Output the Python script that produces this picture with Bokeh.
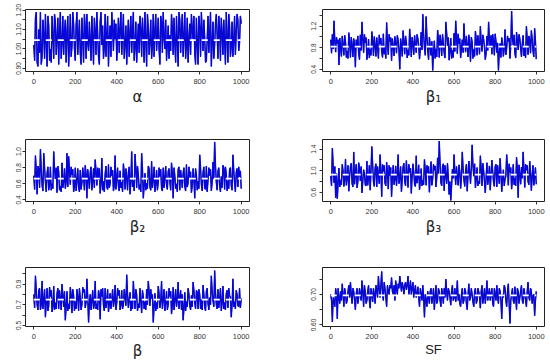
from bokeh.plotting import figure
from bokeh.layouts import gridplot
from bokeh.models import FixedTicker, PrintfTickFormatter, Range1d
from bokeh.embed import file_html
from bokeh.resources import INLINE

# iterations sampled every 8 (main) and the in-between ones (mid)
iter_main = list(range(0, 1001, 8))
iter_mid = list(range(4, 1000, 8))

alpha_main = [
    1.02, 1.16, 0.93, 1.10, 1.19, 0.96, 1.07, 1.18, 0.91, 1.12,
    1.00, 1.17, 0.95, 1.14, 1.05, 0.92, 1.19, 1.03, 0.97, 1.15,
    1.08, 0.91, 1.18, 1.01, 1.13, 0.94, 1.19, 1.06, 0.98, 1.16,
    0.93, 1.11, 1.18, 0.99, 1.04, 1.17, 0.92, 1.09, 1.19, 0.96,
    1.14, 1.02, 0.95, 1.18, 1.07, 0.91, 1.12, 1.19, 0.99, 1.05,
    0.94, 1.16, 1.10, 0.97, 1.18, 1.03, 0.92, 1.15, 1.08, 0.98,
    1.19, 1.01, 0.93, 1.13, 1.17, 0.96, 1.06, 1.19, 0.91, 1.11,
    1.04, 0.95, 1.18, 1.09, 0.99, 1.16, 0.92, 1.14, 1.19, 1.00,
    0.94, 1.12, 1.07, 1.18, 0.97, 1.03, 1.17, 0.91, 1.15, 1.10,
    0.96, 1.19, 1.02, 0.93, 1.13, 1.18, 1.05, 0.98, 1.16, 0.92,
    1.11, 1.19, 0.99, 1.06, 0.94, 1.17, 1.08, 0.91, 1.14, 1.02,
    1.18, 0.95, 1.10, 1.16, 0.97, 1.04, 1.19, 0.93, 1.12, 1.01,
    0.96, 1.17, 1.08, 1.15, 1.03, 1.13,
]
alpha_mid = [
    0.94, 1.19, 0.91, 0.98, 0.92, 1.15, 0.95, 1.04, 1.17, 0.94,
    0.93, 1.06, 1.18, 0.97, 1.16, 1.08, 0.95, 1.17, 1.09, 0.93,
    1.17, 1.02, 0.96, 1.19, 1.00, 1.12, 0.97, 1.15, 0.92, 1.05,
    1.18, 0.95, 1.03, 1.14, 0.94, 1.06, 1.16, 0.97, 1.08, 0.92,
    1.19, 1.12, 1.01, 0.96, 1.17, 1.05, 0.96, 1.10, 1.15, 1.13,
    1.04, 0.98, 1.19, 1.07, 0.95, 1.12, 1.06, 0.96, 1.17, 1.09,
    0.94, 1.14, 1.04, 0.98, 1.10, 1.16, 0.93, 1.05, 1.18, 0.97,
    1.15, 1.02, 0.96, 1.18, 1.07, 1.00, 1.17, 0.98, 1.06, 1.15,
    1.03, 0.95, 0.99, 1.11, 1.16, 0.93, 1.04, 1.19, 0.98, 1.18,
    1.06, 0.95, 1.16, 1.05, 0.97, 1.10, 1.17, 0.92, 1.03, 1.17,
    0.96, 1.09, 1.15, 0.93, 1.05, 0.98, 1.19, 1.03, 0.95, 1.13,
    1.07, 1.17, 0.94, 1.08, 1.15, 0.92, 1.06, 1.18, 0.96, 1.14,
    1.04, 0.97, 1.18, 0.99, 1.17,
]
beta1_main = [
    0.95, 1.05, 1.30, 0.72, 0.88, 0.48, 0.79, 1.02, 0.66, 0.91,
    0.74, 1.08, 0.62, 0.85, 0.97, 0.44, 0.80, 0.69, 1.04, 1.28,
    0.71, 0.89, 0.58, 0.96, 0.77, 1.10, 0.65, 0.84, 0.99, 0.60,
    0.87, 0.73, 1.06, 0.81, 1.27, 0.67, 0.92, 0.56, 0.83, 1.01,
    0.70, 0.94, 0.40, 0.86, 1.12, 0.68, 0.90, 0.76, 1.15, 0.63,
    0.88, 1.03, 0.71, 0.97, 0.59, 1.09, 1.42, 0.80, 1.38, 0.74,
    1.00, 0.66, 0.38, 0.93, 0.78, 1.13, 0.62, 0.90, 1.05, 0.70,
    1.28, 0.84, 0.57, 0.98, 0.75, 1.07, 1.30, 0.69, 0.87, 0.61,
    0.95, 1.25, 0.72, 0.83, 1.04, 0.54, 0.91, 0.77, 1.11, 0.66,
    0.89, 1.20, 0.73, 0.96, 0.58, 1.02, 1.28, 0.80, 0.68, 0.93,
    1.06, 0.71, 0.38, 0.88, 0.99, 0.64, 1.14, 0.79, 0.92, 0.60,
    1.48, 0.85, 0.70, 1.09, 0.76, 0.97, 0.63, 1.03, 0.82, 1.20,
    0.67, 0.94, 1.12, 0.74, 1.16, 0.59,
]
beta1_mid = [
    0.70, 0.78, 0.92, 1.00, 0.95, 0.98, 0.64, 0.85, 1.03, 0.62,
    0.60, 0.90, 1.00, 0.63, 0.86, 0.95, 1.02, 0.58, 0.75, 0.96,
    1.05, 0.99, 0.70, 0.61, 0.66, 0.93, 1.01, 0.64, 0.82, 1.04,
    0.98, 0.62, 0.68, 0.60, 0.90, 1.05, 0.99, 0.97, 0.65, 0.88,
    1.03, 0.75, 0.97, 0.64, 0.91, 1.02, 0.61, 0.66, 0.94, 1.00,
    0.67, 0.86, 1.05, 0.83, 0.78, 0.76, 1.05, 0.66, 1.01, 0.58,
    0.84, 0.92, 0.68, 0.60, 0.63, 0.96, 1.04, 0.65, 0.88, 0.61,
    1.08, 0.99, 0.74, 0.60, 0.62, 0.73, 1.01, 1.06, 0.97, 0.79,
    0.71, 0.93, 1.02, 0.63, 0.86, 1.00, 0.60, 0.64, 0.95, 1.03,
    0.68, 0.90, 1.04, 0.81, 0.70, 0.75, 0.97, 1.03, 1.05, 0.66,
    0.92, 0.89, 0.72, 0.62, 0.87, 0.78, 0.67, 1.02, 0.98, 0.83,
    0.98, 1.04, 0.61, 0.94, 1.05, 0.79, 0.88, 0.65, 0.61, 0.96,
    1.02, 0.70, 0.97, 0.63, 0.92,
]
beta2_main = [
    0.70, 0.95, 0.47, 0.78, 1.03, 0.58, 0.98, 0.62, 0.73, 0.52,
    0.81, 0.60, 1.00, 0.66, 0.49, 0.75, 0.57, 0.86, 0.63, 0.54,
    0.98, 0.94, 0.59, 0.71, 0.50, 0.80, 0.64, 0.55, 0.77, 0.61,
    0.69, 0.83, 0.42, 0.67, 0.74, 0.52, 0.79, 0.90, 0.58, 0.65,
    0.48, 0.92, 0.63, 0.72, 0.56, 0.84, 0.60, 0.70, 0.51, 0.95,
    0.66, 0.57, 0.76, 0.62, 0.85, 0.53, 0.68, 0.74, 0.47, 1.00,
    0.64, 0.97, 0.55, 0.71, 0.59, 0.98, 0.42, 0.73, 0.61, 0.82,
    0.56, 0.88, 0.65, 0.50, 0.77, 0.62, 0.69, 0.54, 0.80, 0.67,
    0.58, 0.75, 0.63, 0.86, 0.42, 0.70, 0.60, 0.78, 0.52, 0.66,
    0.73, 0.57, 0.84, 0.61, 0.68, 0.49, 0.79, 0.42, 0.71, 0.63,
    0.96, 0.59, 0.74, 0.55, 0.82, 0.65, 0.70, 0.51, 0.87, 1.12,
    0.62, 0.76, 0.57, 0.69, 0.83, 0.53, 0.72, 0.64, 0.78, 0.58,
    0.96, 0.61, 0.74, 0.56, 0.69, 0.54,
]
beta2_mid = [
    0.53, 0.76, 0.82, 0.55, 0.79, 0.51, 0.80, 0.50, 0.81, 0.58,
    0.52, 0.54, 0.78, 0.80, 0.82, 0.52, 0.50, 0.55, 0.79, 0.62,
    0.56, 0.77, 0.81, 0.78, 0.57, 0.51, 0.79, 0.50, 0.53, 0.80,
    0.52, 0.72, 0.78, 0.54, 0.81, 0.63, 0.55, 0.76, 0.80, 0.79,
    0.60, 0.52, 0.50, 0.82, 0.53, 0.55, 0.81, 0.77, 0.58, 0.53,
    0.80, 0.51, 0.55, 0.50, 0.74, 0.79, 0.52, 0.81, 0.63, 0.56,
    0.51, 0.80, 0.82, 0.53, 0.50, 0.78, 0.57, 0.52, 0.54, 0.79,
    0.52, 0.55, 0.81, 0.60, 0.52, 0.80, 0.78, 0.51, 0.55, 0.82,
    0.53, 0.79, 0.52, 0.74, 0.80, 0.54, 0.50, 0.81, 0.77, 0.55,
    0.80, 0.51, 0.56, 0.81, 0.75, 0.58, 0.66, 0.79, 0.52, 0.54,
    0.80, 0.51, 0.81, 0.53, 0.50, 0.80, 0.78, 0.62, 0.66, 0.83,
    0.52, 0.80, 0.50, 0.55, 0.79, 0.81, 0.51, 0.54, 0.80, 0.52,
    0.77, 0.50, 0.79, 0.81, 0.76,
]
beta3_main = [
    0.90, 1.42, 0.78, 0.50, 0.48, 1.05, 0.83, 1.12, 0.71, 1.22,
    0.87, 0.62, 1.08, 0.76, 1.35, 0.95, 0.68, 1.15, 0.81, 0.59,
    1.02, 0.74, 1.18, 0.88, 0.64, 1.45, 0.79, 1.06, 0.70, 0.93,
    1.30, 0.52, 0.99, 0.77, 1.16, 0.66, 0.91, 0.52, 1.10, 0.84,
    0.72, 1.30, 0.86, 0.61, 1.07, 0.80, 1.19, 0.69, 0.97, 0.58,
    1.13, 0.75, 1.28, 0.89, 0.65, 1.04, 0.82, 1.21, 0.73, 0.96,
    0.60, 1.17, 0.85, 1.01, 0.70, 1.24, 1.55, 0.78, 1.09, 0.63,
    0.92, 1.14, 0.56, 0.45, 1.03, 1.30, 0.74, 0.88, 1.11, 0.67,
    1.35, 0.83, 0.99, 0.62, 1.18, 0.76, 1.48, 0.90, 0.68, 1.06,
    0.81, 1.28, 0.72, 1.00, 0.59, 1.15, 0.87, 0.64, 1.20, 0.79,
    1.08, 0.70, 0.94, 1.23, 0.61, 1.02, 0.84, 1.30, 0.73, 0.97,
    0.66, 1.12, 0.86, 1.25, 0.50, 0.93, 1.07, 1.35, 0.69, 1.01,
    0.80, 1.18, 0.63, 1.10, 0.88, 0.75,
]
beta3_mid = [
    0.72, 1.10, 1.08, 0.95, 0.78, 0.70, 0.74, 1.00, 0.82, 0.73,
    1.10, 0.90, 1.14, 0.70, 0.75, 1.12, 0.79, 1.05, 1.08, 0.80,
    0.95, 0.72, 0.73, 1.10, 1.00, 1.12, 0.71, 1.13, 1.08, 0.76,
    1.00, 1.12, 1.10, 0.72, 0.98, 1.10, 1.06, 0.88, 0.74, 1.09,
    0.94, 0.76, 1.08, 0.83, 1.14, 0.72, 0.96, 1.12, 1.05, 0.89,
    0.98, 0.71, 0.77, 1.11, 0.80, 0.72, 0.74, 1.00, 1.10, 1.08,
    0.91, 0.73, 1.12, 1.09, 0.88, 0.95, 1.14, 0.72, 1.13, 1.10,
    0.76, 0.88, 0.80, 0.72, 0.86, 0.97, 1.08, 0.73, 0.99, 0.88,
    1.04, 0.71, 1.12, 0.92, 0.98, 1.05, 1.10, 1.13, 0.85, 0.72,
    0.76, 1.04, 1.14, 0.80, 0.88, 0.74, 1.09, 0.93, 0.99, 0.71,
    1.12, 1.10, 0.76, 0.96, 0.85, 0.72, 0.90, 1.07, 1.13, 1.06,
    0.84, 0.74, 0.72, 1.04, 1.11, 0.75, 0.86, 1.02, 1.12, 1.10,
    0.74, 0.97, 0.90, 0.73, 1.06,
]
beta_main = [
    0.80, 0.98, 0.70, 0.84, 0.65, 0.93, 0.74, 0.58, 0.86, 0.69,
    0.78, 0.63, 0.88, 0.72, 0.81, 0.66, 0.76, 0.90, 0.68, 0.55,
    0.83, 0.71, 0.87, 0.62, 0.79, 0.73, 0.85, 0.64, 0.77, 0.70,
    0.82, 0.67, 0.95, 0.53, 0.80, 0.74, 0.66, 0.93, 0.71, 0.84,
    0.56, 0.78, 0.69, 0.86, 0.73, 0.63, 0.81, 0.75, 0.68, 0.89,
    0.72, 0.79, 0.65, 0.84, 0.70, 0.77, 0.99, 0.67, 0.82, 0.74,
    0.93, 0.66, 0.80, 0.71, 0.86, 0.62, 0.78, 0.73, 0.85, 0.93,
    0.69, 0.76, 0.53, 0.81, 0.72, 0.88, 0.67, 0.93, 0.75, 0.64,
    0.83, 0.70, 0.78, 0.61, 0.87, 0.74, 0.68, 0.92, 0.77, 0.65,
    0.55, 0.82, 0.73, 0.86, 0.69, 0.79, 0.92, 0.72, 0.84, 0.66,
    0.80, 0.75, 0.89, 0.68, 0.83, 0.71, 0.77, 0.98, 0.74, 1.03,
    0.70, 0.85, 0.76, 0.64, 0.88, 0.72, 0.81, 0.67, 0.79, 0.58,
    0.95, 0.73, 0.84, 0.69, 0.86, 0.76,
]
beta_mid = [
    0.67, 0.84, 0.65, 0.86, 0.70, 0.66, 0.85, 0.72, 0.64, 0.87,
    0.84, 0.68, 0.65, 0.66, 0.86, 0.84, 0.65, 0.79, 0.83, 0.68,
    0.64, 0.66, 0.80, 0.85, 0.64, 0.66, 0.78, 0.86, 0.65, 0.87,
    0.85, 0.72, 0.78, 0.71, 0.65, 0.84, 0.70, 0.66, 0.65, 0.80,
    0.85, 0.86, 0.64, 0.67, 0.85, 0.70, 0.66, 0.85, 0.74, 0.65,
    0.86, 0.84, 0.70, 0.66, 0.85, 0.69, 0.80, 0.75, 0.64, 0.66,
    0.78, 0.85, 0.64, 0.67, 0.74, 0.84, 0.66, 0.65, 0.70, 0.83,
    0.85, 0.80, 0.68, 0.64, 0.66, 0.81, 0.73, 0.66, 0.85, 0.72,
    0.65, 0.86, 0.83, 0.70, 0.65, 0.85, 0.75, 0.66, 0.84, 0.80,
    0.66, 0.64, 0.68, 0.80, 0.65, 0.68, 0.84, 0.66, 0.82, 0.85,
    0.66, 0.65, 0.80, 0.64, 0.86, 0.65, 0.70, 0.83, 0.68, 0.82,
    0.66, 0.67, 0.86, 0.72, 0.66, 0.65, 0.84, 0.86, 0.77, 0.70,
    0.68, 0.66, 0.80, 0.68, 0.67,
]
sf_main = [
    0.70, 0.61, 0.68, 0.72, 0.62, 0.69, 0.71, 0.735, 0.66, 0.70,
    0.68, 0.73, 0.74, 0.67, 0.71, 0.65, 0.72, 0.69, 0.70, 0.745,
    0.66, 0.71, 0.68, 0.73, 0.655, 0.70, 0.72, 0.67, 0.715, 0.76,
    0.69, 0.775, 0.68, 0.72, 0.66, 0.71, 0.73, 0.755, 0.70, 0.68,
    0.72, 0.735, 0.76, 0.71, 0.725, 0.73, 0.715, 0.76, 0.72, 0.70,
    0.74, 0.71, 0.69, 0.725, 0.66, 0.70, 0.73, 0.625, 0.68, 0.71,
    0.67, 0.72, 0.695, 0.65, 0.73, 0.68, 0.71, 0.66, 0.70, 0.72,
    0.75, 0.68, 0.71, 0.665, 0.73, 0.69, 0.675, 0.745, 0.70, 0.66,
    0.72, 0.68, 0.71, 0.65, 0.735, 0.69, 0.70, 0.66, 0.72, 0.68,
    0.71, 0.655, 0.73, 0.69, 0.67, 0.745, 0.70, 0.68, 0.72, 0.66,
    0.70, 0.73, 0.67, 0.71, 0.62, 0.69, 0.72, 0.66, 0.735, 0.605,
    0.70, 0.68, 0.725, 0.65, 0.71, 0.69, 0.73, 0.67, 0.70, 0.66,
    0.74, 0.68, 0.71, 0.695, 0.63, 0.71,
]
sf_mid = [
    0.68, 0.69, 0.66, 0.70, 0.72, 0.67, 0.68, 0.70, 0.72, 0.67,
    0.71, 0.69, 0.70, 0.72, 0.68, 0.70, 0.67, 0.72, 0.68, 0.71,
    0.73, 0.67, 0.71, 0.68, 0.72, 0.675, 0.70, 0.73, 0.69, 0.72,
    0.73, 0.70, 0.74, 0.69, 0.73, 0.70, 0.72, 0.71, 0.73, 0.745,
    0.70, 0.72, 0.735, 0.74, 0.70, 0.74, 0.73, 0.70, 0.745, 0.72,
    0.69, 0.73, 0.70, 0.69, 0.72, 0.68, 0.69, 0.70, 0.66, 0.69,
    0.71, 0.67, 0.72, 0.69, 0.67, 0.72, 0.68, 0.72, 0.67, 0.69,
    0.71, 0.72, 0.69, 0.71, 0.68, 0.72, 0.70, 0.68, 0.67, 0.70,
    0.67, 0.72, 0.67, 0.70, 0.68, 0.72, 0.675, 0.71, 0.67, 0.72,
    0.69, 0.71, 0.67, 0.72, 0.70, 0.68, 0.72, 0.70, 0.67, 0.72,
    0.68, 0.69, 0.72, 0.68, 0.70, 0.73, 0.68, 0.71, 0.67, 0.68,
    0.72, 0.67, 0.69, 0.72, 0.67, 0.71, 0.68, 0.72, 0.68, 0.71,
    0.69, 0.72, 0.67, 0.70, 0.68,
]

labels = ["\u03b1", "\u03b2\u2081", "\u03b2\u2082", "\u03b2\u2083", "\u03b2", "SF"]
series = [(alpha_main, alpha_mid), (beta1_main, beta1_mid), (beta2_main, beta2_mid),
          (beta3_main, beta3_mid), (beta_main, beta_mid), (sf_main, sf_mid)]
means = [1.045, 0.82, 0.665, 0.93, 0.75, 0.697]
y_ranges = [(0.884, 1.203), (0.36, 1.51), (0.38, 1.15), (0.43, 1.58), (0.49, 1.06), (0.595, 0.788)]
y_major = [[0.90, 1.00, 1.10, 1.20], [0.4, 0.8, 1.2], [0.4, 0.6, 0.8, 1.0],
           [0.6, 1.0, 1.4], [0.5, 0.7, 0.9], [0.60, 0.70]]
y_minor = [[0.95, 1.05, 1.15], [0.6, 1.0, 1.4], [], [0.8, 1.2], [0.6, 0.8, 1.0], [0.65, 0.75]]
y_fmt = ["%.2f", "%.1f", "%.1f", "%.1f", "%.1f", "%.2f"]
x_ticks = [0, 200, 400, 600, 800, 1000]

row_heights = [130, 128, 104]
row_tops = [9, 9, 9]
frame_hs = [62, 62, 63]
col_widths = [270, 280]
col_left = [25, 52]
col_right = [21, 6]
y_standoff = [1, 3]

figs = []
for i in range(6):
    r, c = divmod(i, 2)
    h = row_heights[r]
    p = figure(width=col_widths[c], height=h, output_backend="svg", toolbar_location=None,
               x_range=Range1d(-40, 1040), y_range=Range1d(*y_ranges[i]),
               min_border_left=col_left[c], min_border_right=col_right[c],
               min_border_top=row_tops[r], min_border_bottom=h - row_tops[r] - frame_hs[r])
    p.grid.visible = False
    p.outline_line_color = "#222222"
    p.outline_line_width = 1
    p.background_fill_color = "white"
    p.border_fill_color = "white"

    main, mid = series[i]
    pts = sorted(list(zip(iter_main, main)) + list(zip(iter_mid, mid)))
    xs = [pt[0] for pt in pts]
    ys = [pt[1] for pt in pts]
    p.line(xs, ys, line_color="#1c1c78", line_width=1.4)
    p.line(xs, ys, line_color="#0000ff", line_width=0.9)
    p.line([x_ticks[0], x_ticks[-1]], [means[i], means[i]], line_color="white",
           line_width=1.8, line_dash="6 6")

    p.xaxis.ticker = FixedTicker(ticks=x_ticks)
    p.yaxis.ticker = FixedTicker(ticks=y_major[i], minor_ticks=y_minor[i])
    p.yaxis.formatter = PrintfTickFormatter(format=y_fmt[i])
    p.yaxis.major_label_orientation = "vertical"
    for ax in (p.xaxis[0], p.yaxis[0]):
        ax.axis_line_color = None
        ax.major_tick_in = 0
        ax.major_tick_out = 3
        ax.minor_tick_in = 0
        ax.minor_tick_out = 3
        ax.major_tick_line_color = "#333333"
        ax.minor_tick_line_color = "#333333"
        ax.major_label_text_font = "Liberation Sans"
        ax.major_label_text_color = "#333333"
    p.xaxis.major_label_text_font_size = "7.5px"
    p.yaxis.major_label_text_font_size = "6.5px"
    p.yaxis.major_label_standoff = y_standoff[c]
    p.xaxis.major_label_standoff = 4
    p.xaxis.axis_label = labels[i]
    p.xaxis.axis_label_text_font_style = "normal"
    p.xaxis.axis_label_text_color = "#222222"
    if labels[i] == "SF":
        p.xaxis.axis_label_text_font = "Liberation Sans"
        p.xaxis.axis_label_text_font_size = "13px"
    else:
        p.xaxis.axis_label_text_font = "DejaVu Sans"
        p.xaxis.axis_label_text_font_size = "15px"
    p.xaxis.axis_label_standoff = 1 if r < 2 else 0
    figs.append(p)

grid = gridplot([[figs[0], figs[1]], [figs[2], figs[3]], [figs[4], figs[5]]],
                toolbar_location=None)

open("out.html", "w").write(file_html(grid, INLINE))
